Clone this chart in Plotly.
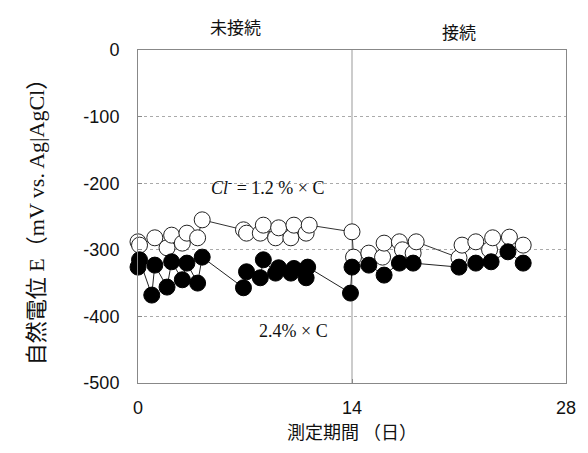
import plotly.graph_objects as go

# Natural potential readings, Cl- = 1.2 % x C (open circles)
days_12 = [0.0, 0.1, 1.1, 1.9, 2.2, 2.9, 3.2, 3.9, 4.2,
           6.9, 7.1, 8.0, 8.2, 9.0, 9.2, 10.0, 10.2, 11.0, 11.2,
           14.0, 14.1, 15.1, 16.0, 16.1, 17.1, 17.3, 18.0, 18.2,
           21.0, 21.2, 22.1, 23.0, 23.2, 24.3, 25.2]
pot_12 = [-288, -293, -282, -297, -278, -290, -275, -282, -255,
          -270, -275, -275, -263, -282, -267, -282, -263, -275, -263,
          -273, -311, -305, -311, -290, -288, -300, -305, -288,
          -312, -293, -288, -300, -282, -281, -293]

# Natural potential readings, 2.4 % x C (filled circles)
days_24 = [0.0, 0.1, 0.9, 1.1, 1.9, 2.2, 2.9, 3.2, 3.9, 4.2,
           6.9, 7.1, 8.0, 8.2, 9.0, 9.2, 10.0, 10.2, 11.0, 11.1,
           13.9, 14.0, 15.1, 16.1, 17.1, 18.0,
           21.0, 22.1, 23.1, 24.2, 25.2]
pot_24 = [-326, -315, -368, -323, -356, -318, -345, -320, -350, -311,
          -357, -333, -342, -315, -335, -327, -335, -328, -342, -326,
          -365, -326, -323, -338, -320, -320,
          -326, -320, -318, -303, -320]

x_ticks = [0, 14, 28]
y_ticks = [0, -100, -200, -300, -400, -500]

fig = go.Figure()

fig.add_trace(go.Scatter(
    x=days_12, y=pot_12, mode="lines+markers", cliponaxis=False,
    line=dict(color="#333333", width=1),
    marker=dict(symbol="circle", size=16, color="white",
                line=dict(color="#222222", width=1)),
    showlegend=False,
))
fig.add_trace(go.Scatter(
    x=days_24, y=pot_24, mode="lines+markers", cliponaxis=False,
    line=dict(color="#222222", width=1),
    marker=dict(symbol="circle", size=16, color="black",
                line=dict(color="black", width=1)),
    showlegend=False,
))

# divider between the two periods
fig.add_shape(type="line", x0=14, x1=14, y0=-500, y1=0,
              line=dict(color="#999999", width=1), layer="below")

axis_font = dict(family="Liberation Sans, Arial, sans-serif", size=18, color="#111111")
cjk = "Noto Sans CJK JP, sans-serif"
serif_cjk = "Liberation Serif, Noto Sans CJK JP, serif"
serif = "Liberation Serif, Times New Roman, serif"

fig.update_layout(
    width=588, height=453,
    margin=dict(l=138, r=17, t=50, b=70),
    paper_bgcolor="white", plot_bgcolor="white",
    xaxis=dict(
        range=[0, 28], tickvals=x_ticks, ticktext=[str(v) for v in x_ticks],
        showgrid=False, zeroline=False,
        showline=True, linecolor="#888888", linewidth=1, mirror=True,
        ticks="inside", ticklen=4, tickcolor="#888888",
        tickfont=axis_font, ticklabelstandoff=8,
        title=dict(text="測定期間 （日）", font=dict(family=cjk, size=18, color="#111111"),
                   standoff=7),
    ),
    yaxis=dict(
        range=[-500, 0], tickvals=y_ticks, ticktext=[str(v) for v in y_ticks],
        showgrid=True, gridcolor="#aaaaaa", griddash="dot", gridwidth=1,
        zeroline=False,
        showline=True, linecolor="#888888", linewidth=1, mirror=True,
        ticks="inside", ticklen=4, tickcolor="#888888",
        tickfont=axis_font, ticklabelstandoff=14,
        title=dict(
            text="自然電位 E（mV vs. Ag|AgCl）",
            font=dict(family=serif_cjk, size=22, color="#111111"),
            standoff=32),
    ),
    annotations=[
        dict(x=6.4, y=1.0, xref="x", yref="paper", yanchor="bottom", yshift=9,
             text="未接続", showarrow=False,
             font=dict(family=cjk, size=17, color="#111111")),
        dict(x=21.0, y=1.0, xref="x", yref="paper", yanchor="bottom", yshift=4,
             text="接続", showarrow=False,
             font=dict(family=cjk, size=17, color="#111111")),
        dict(x=8.5, y=-205, xref="x", yref="y",
             text="<i>Cl</i><sup>-</sup> = 1.2 % × C", showarrow=False,
             font=dict(family=serif, size=18, color="#111111")),
        dict(x=10.2, y=-422, xref="x", yref="y",
             text="2.4% × C", showarrow=False,
             font=dict(family=serif, size=18, color="#111111")),
    ],
)

fig.write_html("out.html")
